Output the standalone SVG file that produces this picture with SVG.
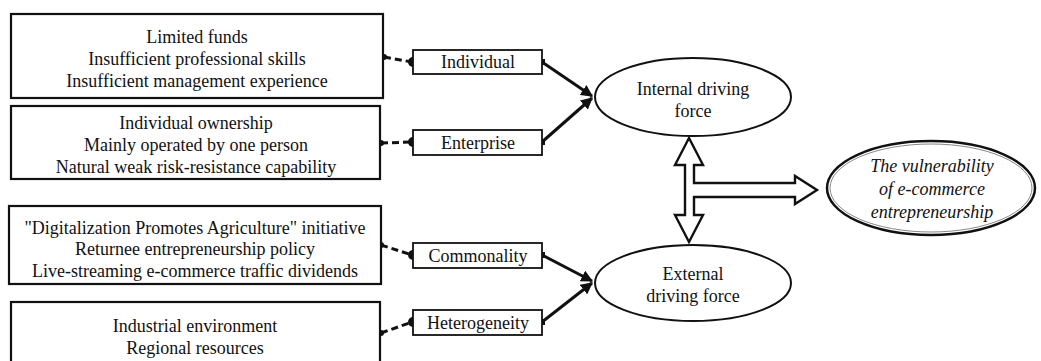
<svg xmlns="http://www.w3.org/2000/svg" width="1041" height="361" viewBox="0 0 1041 361">
<style>
text{font-family:'Liberation Serif','Times New Roman',serif;font-size:18px;fill:#111;text-anchor:middle}
.box{fill:#fff;stroke:#111;stroke-width:2.2}
.sbox{fill:#fff;stroke:#111;stroke-width:1.8}
.ell{fill:#fff;stroke:#111;stroke-width:2}
.dash{stroke:#111;stroke-width:3;stroke-dasharray:7,4;fill:none}
.solid{stroke:#111;stroke-width:3;fill:none}
.it{font-style:italic;font-size:18px}
</style>
<defs>
<marker id="ah" viewBox="0 0 10 10" refX="9" refY="5" markerWidth="4" markerHeight="4" orient="auto" markerUnits="strokeWidth">
<path d="M0,0 L10,5 L0,10 Z" fill="#111"/>
</marker>
</defs>
<g id="connectors">
<line class="dash" x1="384" y1="57" x2="412" y2="62"/>
<line class="dash" x1="381" y1="143" x2="412" y2="142"/>
<line class="dash" x1="381" y1="245" x2="412" y2="255"/>
<line class="dash" x1="381" y1="333" x2="412" y2="322"/>
<circle cx="384" cy="57" r="3" fill="#111"/>
<circle cx="381" cy="143" r="3" fill="#111"/>
<circle cx="381" cy="245" r="3" fill="#111"/>
<circle cx="381" cy="333" r="3" fill="#111"/>
<circle cx="413" cy="62" r="5" fill="#111"/>
<circle cx="413" cy="142" r="5" fill="#111"/>
<circle cx="413" cy="255" r="5" fill="#111"/>
<circle cx="413" cy="322" r="5" fill="#111"/>
<line class="solid" x1="542" y1="62" x2="592" y2="96" marker-end="url(#ah)"/>
<line class="solid" x1="542" y1="142" x2="592" y2="98" marker-end="url(#ah)"/>
<line class="solid" x1="542" y1="255" x2="592" y2="281" marker-end="url(#ah)"/>
<line class="solid" x1="542" y1="322" x2="592" y2="283" marker-end="url(#ah)"/>
<rect x="539" y="59" width="6" height="6" fill="#111"/>
<rect x="539" y="139" width="6" height="6" fill="#111"/>
<rect x="539" y="252" width="6" height="6" fill="#111"/>
<rect x="539" y="319" width="6" height="6" fill="#111"/>
<path d="M689,138 L703,165 L694,165 L694,183 L795,183 L795,176 L817,190 L795,204 L795,197 L694,197 L694,215 L703,215 L689,242 L675,215 L685,215 L685,165 L675,165 Z" fill="#fff" stroke="#111" stroke-width="2.4" stroke-linejoin="miter"/>
</g>
<g id="box1">
<rect class="box" x="11" y="14" width="372" height="84"/>
<text x="197" y="43">Limited funds</text>
<text x="197" y="65">Insufficient professional skills</text>
<text x="197" y="87">Insufficient management experience</text>
</g>
<g id="box2">
<rect class="box" x="11" y="106" width="369" height="73"/>
<text x="196" y="129">Individual ownership</text>
<text x="196" y="151">Mainly operated by one person</text>
<text x="196" y="173">Natural weak risk-resistance capability</text>
</g>
<g id="box3">
<rect class="box" x="9" y="206" width="372" height="78"/>
<text x="195" y="234">"Digitalization Promotes Agriculture" initiative</text>
<text x="195" y="255">Returnee entrepreneurship policy</text>
<text x="195" y="277">Live-streaming e-commerce traffic dividends</text>
</g>
<g id="box4">
<rect class="box" x="11" y="302" width="369" height="80"/>
<text x="195" y="332">Industrial environment</text>
<text x="195" y="354">Regional resources</text>
</g>
<g id="individual">
<rect class="sbox" x="413" y="50" width="129" height="24"/>
<text x="478" y="68">Individual</text>
</g>
<g id="enterprise">
<rect class="sbox" x="413" y="130" width="129" height="25"/>
<text x="478" y="149">Enterprise</text>
</g>
<g id="commonality">
<rect class="sbox" x="413" y="243" width="129" height="25"/>
<text x="478" y="262">Commonality</text>
</g>
<g id="heterogeneity">
<rect class="sbox" x="413" y="310" width="129" height="25"/>
<text x="478" y="329">Heterogeneity</text>
</g>
<g id="internal">
<ellipse class="ell" cx="693" cy="97" rx="98" ry="39"/>
<text x="693" y="95">Internal driving</text>
<text x="693" y="117">force</text>
</g>
<g id="external">
<ellipse class="ell" cx="693" cy="283" rx="98" ry="38"/>
<text x="693" y="280">External</text>
<text x="693" y="302">driving force</text>
</g>
<g id="vulnerability">
<ellipse cx="931" cy="188" rx="104" ry="47" fill="#fff" stroke="#111" stroke-width="2.5"/>
<ellipse cx="931" cy="188" rx="101" ry="44" fill="none" stroke="#888" stroke-width="1"/>
<text class="it" x="932" y="172">The vulnerability</text>
<text class="it" x="932" y="195">of e-commerce</text>
<text class="it" x="932" y="218">entrepreneurship</text>
</g>
</svg>
